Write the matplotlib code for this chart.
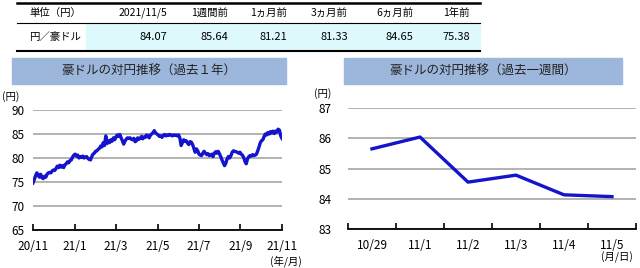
import numpy as np
import matplotlib
matplotlib.use('Agg')
import matplotlib.pyplot as plt
from matplotlib.patches import Rectangle
from matplotlib.lines import Line2D

plt.rcParams['font.family'] = ['Noto Sans CJK JP', 'DejaVu Sans']

# table
table_head = ['単位（円）', '2021/11/5', '1週間前', '1ヵ月前', '3ヵ月前', '6ヵ月前', '1年前']
table_row = ['円／豪ドル', '84.07', '85.64', '81.21', '81.33', '84.65', '75.38']

# past year (20/11 -> 21/11)
year_ticks = ['20/11', '21/1', '21/3', '21/5', '21/7', '21/9', '21/11']
year_vals = [
    74.8, 75.5, 76.3, 76.9, 76.5, 76.0, 76.6, 75.9, 75.7, 76.2, 76.0, 76.6,
    76.9, 77.0, 76.9, 77.3, 77.5, 77.4, 77.8, 78.3, 78.0, 78.5, 78.1, 78.4,
    78.0, 78.6, 78.8, 79.2, 79.0, 79.5, 79.6,
    80.2, 80.6, 80.8, 80.4, 80.6, 80.0, 80.3, 80.1, 80.4, 80.0, 80.2, 80.3,
    79.9, 79.7, 79.6, 80.3, 80.8, 81.0, 81.4, 81.5, 81.8, 82.0, 82.5, 82.3,
    83.2, 82.6, 84.6, 83.0, 83.6, 83.2, 83.8, 83.5,
    84.2, 83.8, 84.4, 84.8, 84.5, 84.9, 84.2, 83.6, 82.9, 83.5, 83.9, 84.2,
    84.1, 84.2, 83.9, 83.8, 84.1, 83.4, 83.6, 84.2, 83.9, 84.1, 84.5, 84.0,
    84.4, 84.3, 84.8, 84.6, 84.2, 84.8, 85.0,
    85.3, 85.7, 85.2, 85.0, 84.8, 84.5, 84.6, 84.3, 84.7, 84.9, 84.6, 84.8,
    84.7, 84.9, 84.8, 84.6, 84.8, 84.7, 84.8, 84.6, 84.8, 84.2, 82.6, 83.2,
    83.8, 83.5, 83.6, 83.1, 82.8, 83.4, 83.3, 82.8, 82.0,
    81.2, 81.9, 81.5, 80.8, 80.6, 80.5, 81.0, 81.4, 81.0, 80.7, 80.9, 80.5,
    80.6, 80.8, 80.3, 81.0, 81.3, 81.0, 81.4, 80.9, 80.3, 79.6, 79.0, 78.4,
    78.9, 79.8, 80.3, 80.0, 80.5, 81.2, 81.5, 81.4,
    81.3, 81.2, 81.0, 81.2, 80.8, 80.6, 80.1, 79.3, 78.8, 79.8, 80.3, 80.5,
    80.4, 80.7, 80.5, 80.6, 80.8, 81.5, 82.3, 83.2, 83.6, 83.8, 84.5, 85.0,
    84.8, 85.3, 85.0, 85.5, 85.2, 85.6, 85.1, 85.6, 85.4, 86.0, 85.8, 84.6,
    84.07,
]

# past week
week_days = ['10/29', '11/1', '11/2', '11/3', '11/4', '11/5']
week_vals = [85.65, 86.04, 84.55, 84.78, 84.13, 84.07]

W, H = 640, 268
blue = '#1414CC'
grid_c = '#A6A6A6'


def fx(x):
    return x / W


def fy(y):
    return 1 - y / H


fig = plt.figure(figsize=(6.4, 2.68), dpi=100)

# ---- table ----
fig.patches.append(Rectangle((fx(86), fy(51)), fx(480) - fx(86), fy(23) - fy(51),
                             transform=fig.transFigure, color='#DDF9FC', zorder=0))
for y, lw in [(3, 1.8), (22.5, 0.8), (51, 1.5)]:
    fig.add_artist(Line2D([fx(17), fx(480)], [fy(y), fy(y)], color='black', lw=lw,
                          transform=fig.transFigure))
col_right = [None, 167, 228, 287, 348, 413, 470]
fig.text(fx(29), fy(13), table_head[0], fontsize=7.5, va='center', ha='left')
fig.text(fx(29), fy(37), table_row[0], fontsize=7.5, va='center', ha='left')
for i in range(1, 7):
    fig.text(fx(col_right[i]), fy(13), table_head[i], fontsize=7.5, va='center', ha='right')
    fig.text(fx(col_right[i]), fy(37), table_row[i], fontsize=8, va='center', ha='right')

# ---- title boxes ----
title_fill = '#9DB6DB'
for x0, x1, t in [(12, 286, '豪ドルの対円推移（過去１年）'), (344, 622, '豪ドルの対円推移（過去一週間）')]:
    fig.patches.append(Rectangle((fx(x0), fy(84)), fx(x1) - fx(x0), fy(58) - fy(84),
                                 transform=fig.transFigure, color=title_fill, zorder=0))
    fig.text(fx((x0 + x1) / 2), fy(71), t, fontsize=9, ha='center', va='center', color='#222222')


def style_axis(ax):
    for s in ['top', 'right', 'left']:
        ax.spines[s].set_visible(False)
    ax.spines['bottom'].set_linewidth(1.3)
    ax.yaxis.grid(True, color=grid_c, lw=1.2)
    ax.set_axisbelow(True)
    ax.tick_params(axis='y', length=0, labelsize=8.5, pad=6)
    ax.tick_params(axis='x', which='both', direction='in', length=4, width=1.2, labelsize=8.5)


# ---- left: past year ----
ax1 = fig.add_axes([fx(33), fy(230), fx(282) - fx(33), fy(110) - fy(230)])
n = len(year_vals)
ax1.plot(np.arange(n), year_vals, color=blue, lw=2.4)
ax1.set_xlim(0, n - 1)
ax1.set_ylim(65, 90)
ax1.set_yticks([65, 70, 75, 80, 85, 90])
ax1.set_xticks(np.linspace(0, n - 1, len(year_ticks)))
ax1.set_xticklabels(year_ticks)
style_axis(ax1)
ax1.tick_params(axis='x', pad=7)
fig.text(fx(11), fy(97), '(円)', fontsize=7.5, ha='center', va='center')
fig.text(fx(286), fy(261), '(年/月)', fontsize=7.5, ha='center', va='center')

# ---- right: past week ----
ax2 = fig.add_axes([fx(348), fy(229), fx(636) - fx(348), fy(108) - fy(229)])
ax2.plot(np.arange(len(week_vals)), week_vals, color=blue, lw=2.4)
ax2.set_xlim(-0.5, len(week_vals) - 0.5)
ax2.set_ylim(83, 87)
ax2.set_yticks([83, 84, 85, 86, 87])
ax2.set_xticks(np.arange(len(week_days)))
ax2.set_xticklabels(week_days)
ax2.set_xticks(np.arange(len(week_days) + 1) - 0.5, minor=True)
style_axis(ax2)
ax2.tick_params(axis='x', which='major', length=0, pad=7)
ax2.tick_params(axis='y', pad=12)
fig.text(fx(323), fy(94), '(円)', fontsize=7.5, ha='center', va='center')
fig.text(fx(617), fy(257.5), '(月/日)', fontsize=7.5, ha='center', va='center')

fig.savefig('out.png', dpi=100)
